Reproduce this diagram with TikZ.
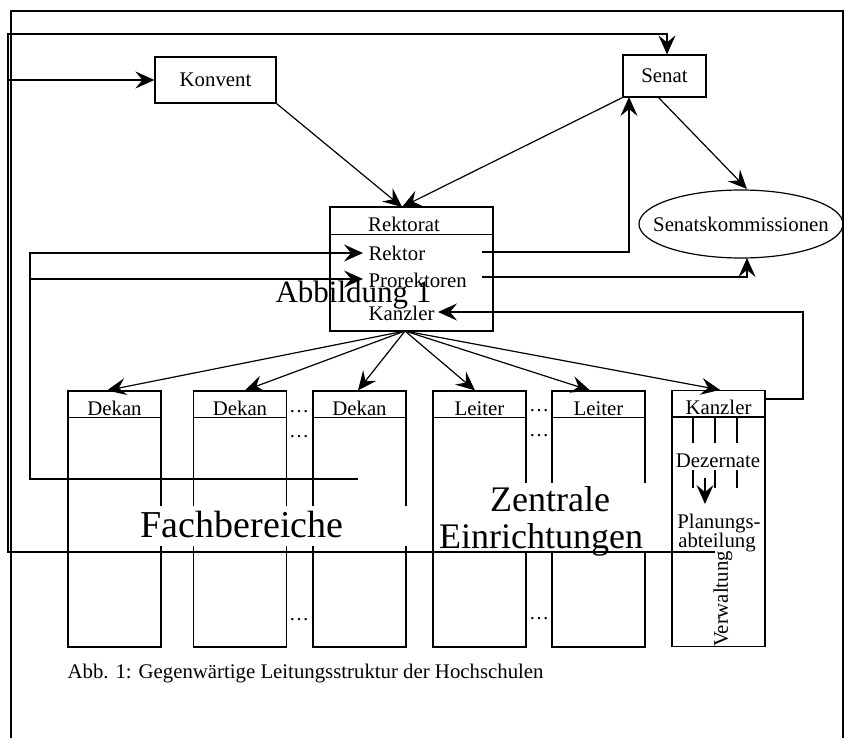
\documentclass[tikz,border=0pt]{standalone}
\usepackage{fontspec}
\setmainfont{Liberation Serif}
\usetikzlibrary{arrows.meta,calc,shapes.geometric}
\begin{document}
\begin{tikzpicture}[x=1pt,y=-1pt, line width=1.2pt,
  tip/.style={-{Stealth[length=19pt,width=17pt,inset=7pt]}},
  box/.style={draw, rectangle, inner sep=0pt},
  lbl/.style={font=\fontsize{20.8}{24}\selectfont, inner sep=0pt},
  big/.style={font=\fontsize{37}{38}\selectfont, inner sep=0pt},
  col/.style={box, minimum width=93, minimum height=256},
  dotsn/.style={font=\fontsize{20}{24}\selectfont, inner sep=0pt, anchor=base}
]
\useasboundingbox (0,0) rectangle (846,738);
\fill[white] (0,0) rectangle (846,738);

% frame
\coordinate (fbl) at (11,760); \coordinate (ftl) at (11,11);
\coordinate (ftr) at (843,11); \coordinate (fbr) at (843,760);
\draw (fbl) -- (ftl) -- (ftr) -- (fbr);

% top nodes
\node[box, lbl, minimum width=121, minimum height=46] (konvent) at (215.5,80) {Konvent};
\node[box, lbl, minimum width=83, minimum height=42] (senat) at (664.5,76) {Senat};
\node[draw, ellipse, inner sep=0pt, minimum width=204, minimum height=68] (kom) at (741,224) {};
\node[lbl] (komlbl) at (kom.center) {Senatskommissionen};

% Rektorat
\node[box, minimum width=163, minimum height=124] (rektorat) at (411.5,269) {};
\draw ($(rektorat.north west)+(0,28)$) -- ($(rektorat.north east)+(0,28)$);
\node[lbl, anchor=base] (rektoratlbl) at (404,232) {Rektorat};
\node[lbl, anchor=base west] (rektor) at (368,261) {Rektor};
\node[lbl, anchor=base west] (prorektoren) at (368,287) {Prorektoren};
\node[lbl, anchor=base west] (kanzlerR) at (368,320) {Kanzler};
\node[font=\fontsize{31}{32}\selectfont, inner sep=0pt, anchor=base] (abb) at (353.5,302) {Abbildung 1};

% columns
\node[col] (f1) at (114.5,519) {};
\node[col] (f2) at (240,519) {};
\node[col] (f3) at (359.5,519) {};
\node[col] (z1) at (479.5,519) {};
\node[col] (z2) at (598.5,519) {};
\node[col] (kz) at (718.5,518.5) {};
\foreach \n in {f1,f2,f3,z1,z2,kz}
  \draw ($(\n.north west)+(0,27)$) -- ($(\n.north east)+(0,27)$);
\node[lbl, anchor=base] (d1) at ($(f1.north)+(0,25)$) {Dekan};
\node[lbl, anchor=base] (d2) at ($(f2.north)+(0,25)$) {Dekan};
\node[lbl, anchor=base] (d3) at ($(f3.north)+(0,25)$) {Dekan};
\node[lbl, anchor=base] (l1) at ($(z1.north)+(0,25)$) {Leiter};
\node[lbl, anchor=base] (l2) at ($(z2.north)+(0,25)$) {Leiter};
\node[lbl, anchor=base] (kzh) at ($(kz.north)+(0,25)$) {Kanzler};

% dots
\node[dotsn] (dA1) at (299,412) {\dots};
\node[dotsn] (dA2) at (299,437) {\dots};
\node[dotsn] (dA3) at (299,620) {\dots};
\node[dotsn] (dB1) at (539,411) {\dots};
\node[dotsn] (dB2) at (539,436) {\dots};
\node[dotsn] (dB3) at (539,619) {\dots};

% big labels
\fill[white] (138,506) rectangle (410,546);
\node[big, font=\fontsize{38}{38}\selectfont, anchor=base] (fach) at (242,537) {Fachbereiche};
\fill[white] (437,483) rectangle (648,551);
\node[big, font=\fontsize{36}{38}\selectfont, anchor=base] (zen1) at (550,511) {Zentrale};
\node[big, font=\fontsize{36}{38}\selectfont, anchor=base] (zen2) at (541,548) {Einrichtungen};

% Kanzler column contents
\foreach \x in {693,715,737} \draw (\x,418) -- (\x,443);
\node[lbl, anchor=base] (dez) at (718,467) {Dezernate};
\foreach \x in {693,715,737} \draw (\x,470) -- (\x,488);
\coordinate (pa) at (705,478); \coordinate (pb) at (705,504);
\draw[tip] (pa) -- (pb);
\node[lbl, anchor=base] (plan1) at (719,528) {Planungs-};
\node[lbl, anchor=base] (plan2) at (717,547) {abteilung};
\node[lbl, rotate=90] (verw) at (723,599) {Verwaltung};

% Planungsabteilung -> Senat loop
\coordinate (pl) at (715,552);
\coordinate (plA) at (8,552); \coordinate (plB) at (8,34); \coordinate (plC) at (667,34);
\draw[tip] (pl) -- (plA) -- (plB) -- (plC) -- (plC |- senat.north);

% into Konvent
\coordinate (kin) at (8,80);
\draw[tip] (kin) -- (konvent.west);

% Fachbereiche -> Rektor / Prorektoren
\coordinate (fb) at (358,479); \coordinate (fbA) at (30,479);
\coordinate (fbB) at (30,253); \coordinate (fbC) at (30,279);
\coordinate (rektorIn) at (363,253); \coordinate (proIn) at (363,279);
\draw[tip] (fb) -- (fbA) -- (fbB) -- (rektorIn);
\draw[tip] (fbC) -- (proIn);

% Rektor -> Senat, Prorektoren -> Kommissionen
\coordinate (rektorOut) at (482,252); \coordinate (sx) at (629,97);
\draw[tip] (rektorOut) -- (rektorOut -| sx) -- (sx);
\coordinate (proOut) at (482,277); \coordinate (kx) at (747,258);
\draw[tip] (proOut) -- (proOut -| kx) -- (kx);

% Kanzler column -> Kanzler
\coordinate (kzOut) at (765,399); \coordinate (kzB) at (803,399);
\coordinate (kzC) at (803,312); \coordinate (kzIn) at (438,312);
\draw[tip] (kzOut) -- (kzB) -- (kzC) -- (kzIn);

% into Rektorat
\coordinate (rtop) at (402,207);
\draw[tip] (konvent.south east) -- (rtop);
\draw[tip] (senat.south west) -- (rtop);
\coordinate (sout) at (658,97); \coordinate (kin2) at (747,189);
\draw[tip] (sout) -- (kin2);

% Rektorat -> columns
\coordinate (rb) at (405,331);
\draw[tip] (rb) -- ($(f1.north)+(-7.5,0)$);
\draw[tip] (rb) -- ($(f2.north)+(5,0)$);
\draw[tip] (rb) -- ($(f3.north)+(-1.5,0)$);
\draw[tip] (rb) -- ($(z1.north)+(-4.5,0)$);
\draw[tip] (rb) -- ($(z2.north)+(-8.5,0)$);
\draw[tip] (rb) -- ($(kz.north)+(1.5,0)$);

% caption
\node[lbl, anchor=base west] (cap) at (67,678) {Abb. 1: Gegenwärtige Leitungsstruktur der Hochschulen};
\end{tikzpicture}
\end{document}
